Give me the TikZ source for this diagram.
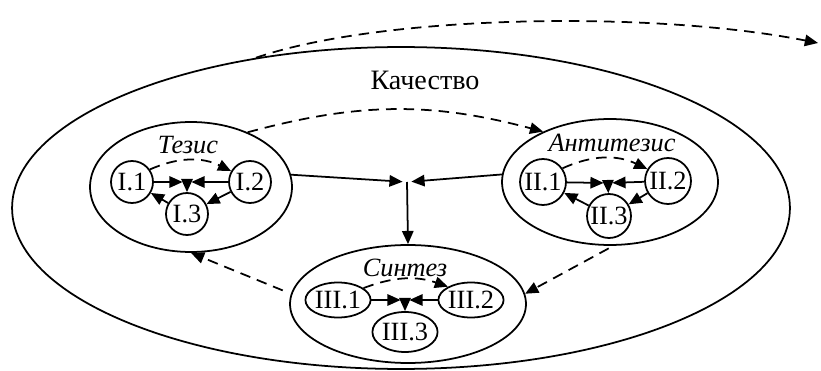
\documentclass[tikz,border=0pt]{standalone}
\usepackage{fontspec}
\setmainfont{Liberation Serif}
\usetikzlibrary{shapes.geometric,arrows.meta}

\begin{document}
\begin{tikzpicture}[x=0.02cm, y=-0.02cm, line width=1pt,
  >={Triangle[length=7.5pt,width=6.5pt]},
  stage/.style={draw, ellipse, inner sep=0pt},
  part/.style={draw, circle, inner sep=0pt, minimum size=0.84cm, font=\fontsize{15}{15}\selectfont},
  subpart/.style={draw, ellipse, inner sep=0pt, minimum height=0.7cm, font=\fontsize{15}{15}\selectfont},
  title/.style={font=\fontsize{15}{15}\selectfont\itshape},
  flow/.style={->, dash pattern=on 6pt off 4pt},
  link/.style={->, shorten >=2.5pt}]

  \useasboundingbox (0,0) rectangle (821,371);

  % -- Quality --
  \node[stage, minimum width=15.56cm, minimum height=6.44cm] (kach) at (401,208) {};
  \node[font=\fontsize{16}{16}\selectfont] (kachlbl) at (425,80) {Качество};

  % -- Thesis --
  \node[stage, minimum width=4.04cm, minimum height=2.6cm] (tez) at (191,187) {};
  \node[title] (tezlbl) at (188,145) {Тезис};
  \node[part] (i1) at (132,182) {I.1};
  \node[part] (i2) at (250,182) {I.2};
  \node[part] (i3) at (187,214) {I.3};
  \coordinate (j1) at (187,182);
  \draw[link] (i1) -- (j1);
  \draw[link] (i2) -- (j1);
  \draw[->] (j1) -- (i3);
  \draw[->] (i3) -- (i1);
  \draw[->] (i2) -- (i3);
  \draw[flow] (i1.35) to[bend left=25] (i2.150);

  % -- Antithesis --
  \node[stage, minimum width=4.32cm, minimum height=2.52cm] (anti) at (610,182) {};
  \node[title] (antilbl) at (612,143) {Антитезис};
  \node[part, minimum size=0.92cm] (ii1) at (543,182) {II.1};
  \node[part, minimum size=0.92cm] (ii2) at (668,181) {II.2};
  \node[part, minimum size=0.88cm] (ii3) at (609,216) {II.3};
  \coordinate (j2) at (608,183);
  \draw[link] (ii1) -- (j2);
  \draw[link] (ii2) -- (j2);
  \draw[->] (j2) -- (ii3);
  \draw[->] (ii3) -- (ii1);
  \draw[->] (ii2) -- (ii3);
  \draw[flow] (ii1.35) to[bend left=25] (ii2.150);

  % -- Synthesis --
  \node[stage, minimum width=4.72cm, minimum height=2.36cm] (sin) at (408,304) {};
  \node[title] (sinlbl) at (405,268) {Синтез};
  \node[subpart, minimum width=1.26cm] (iii1) at (338,300) {III.1};
  \node[subpart, minimum width=1.08cm] (iii2) at (471,300) {III.2};
  \node[subpart, minimum width=1.18cm, minimum height=0.8cm] (iii3) at (405,332) {III.3};
  \coordinate (j3) at (405,300);
  \draw[link] (iii1) -- (j3);
  \draw[link] (iii2) -- (j3);
  \draw[->] (j3) -- (iii3);
  \draw[flow] (iii1.25) to[bend left=20] (iii2.150);

  % -- Thesis + antithesis give synthesis --
  \coordinate (jm) at (407,182);
  \draw[link] (tez.7) -- (jm);
  \draw[link] (anti.176) -- (jm);
  \draw[->] (jm) -- (sin.north);

  % -- Cycle of transitions --
  \draw[flow] (tez.44) to[bend left=15] (anti.143);
  \draw[flow, shorten <=3pt] (anti.-87) -- (sin.5);
  \draw[flow, shorten <=5pt] (sin.175) -- (tez.-90);

  % -- To the next quality --
  \coordinate (next) at (818,43);
  \draw[flow] (kach.134) .. controls (380,15) and (650,10) .. (next);

\end{tikzpicture}
\end{document}
